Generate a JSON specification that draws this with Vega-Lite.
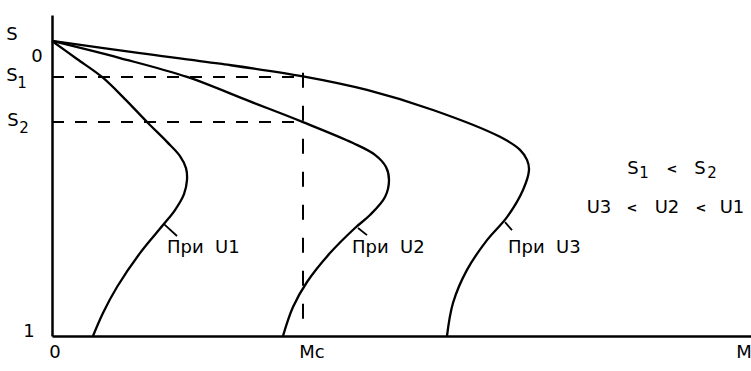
{
  "$schema": "https://vega.github.io/schema/vega-lite/v6.json",
  "autosize": {"type": "none"},
  "width": 699,
  "height": 321,
  "padding": {"left": 52, "top": 15, "right": 0, "bottom": 35},
  "background": "white",
  "config": {
    "view": {"stroke": null},
    "text": {"font": "DejaVu Sans", "color": "black"}
  },
  "datasets": {
    "curves": [
      {"curve": "U1", "i": 0, "M": 0, "S": 0},
      {"curve": "U1", "i": 1, "M": 25, "S": 0.061},
      {"curve": "U1", "i": 2, "M": 50, "S": 0.122},
      {"curve": "U1", "i": 3, "M": 73, "S": 0.197},
      {"curve": "U1", "i": 4, "M": 96, "S": 0.278},
      {"curve": "U1", "i": 5, "M": 115, "S": 0.342},
      {"curve": "U1", "i": 6, "M": 128, "S": 0.39},
      {"curve": "U1", "i": 7, "M": 134, "S": 0.431},
      {"curve": "U1", "i": 8, "M": 135, "S": 0.471},
      {"curve": "U1", "i": 9, "M": 132, "S": 0.519},
      {"curve": "U1", "i": 10, "M": 123, "S": 0.573},
      {"curve": "U1", "i": 11, "M": 111, "S": 0.624},
      {"curve": "U1", "i": 12, "M": 88, "S": 0.719},
      {"curve": "U1", "i": 13, "M": 65, "S": 0.834},
      {"curve": "U1", "i": 14, "M": 51, "S": 0.922},
      {"curve": "U1", "i": 15, "M": 41, "S": 1.0},
      {"curve": "U2", "i": 0, "M": 0, "S": 0},
      {"curve": "U2", "i": 1, "M": 68, "S": 0.058},
      {"curve": "U2", "i": 2, "M": 135, "S": 0.122},
      {"curve": "U2", "i": 3, "M": 198, "S": 0.205},
      {"curve": "U2", "i": 4, "M": 251, "S": 0.275},
      {"curve": "U2", "i": 5, "M": 301, "S": 0.346},
      {"curve": "U2", "i": 6, "M": 323, "S": 0.386},
      {"curve": "U2", "i": 7, "M": 334, "S": 0.427},
      {"curve": "U2", "i": 8, "M": 337, "S": 0.471},
      {"curve": "U2", "i": 9, "M": 333, "S": 0.529},
      {"curve": "U2", "i": 10, "M": 318, "S": 0.59},
      {"curve": "U2", "i": 11, "M": 303, "S": 0.634},
      {"curve": "U2", "i": 12, "M": 278, "S": 0.719},
      {"curve": "U2", "i": 13, "M": 255, "S": 0.817},
      {"curve": "U2", "i": 14, "M": 241, "S": 0.902},
      {"curve": "U2", "i": 15, "M": 231, "S": 1.0},
      {"curve": "U3", "i": 0, "M": 0, "S": 0},
      {"curve": "U3", "i": 1, "M": 88, "S": 0.041},
      {"curve": "U3", "i": 2, "M": 168, "S": 0.077},
      {"curve": "U3", "i": 3, "M": 251, "S": 0.12},
      {"curve": "U3", "i": 4, "M": 315, "S": 0.166},
      {"curve": "U3", "i": 5, "M": 381, "S": 0.234},
      {"curve": "U3", "i": 6, "M": 448, "S": 0.325},
      {"curve": "U3", "i": 7, "M": 468, "S": 0.369},
      {"curve": "U3", "i": 8, "M": 475, "S": 0.403},
      {"curve": "U3", "i": 9, "M": 477, "S": 0.437},
      {"curve": "U3", "i": 10, "M": 471, "S": 0.505},
      {"curve": "U3", "i": 11, "M": 455, "S": 0.597},
      {"curve": "U3", "i": 12, "M": 435, "S": 0.675},
      {"curve": "U3", "i": 13, "M": 415, "S": 0.776},
      {"curve": "U3", "i": 14, "M": 401, "S": 0.888},
      {"curve": "U3", "i": 15, "M": 395, "S": 1.0}
    ],
    "slipLevels": [
      {"name": "S1", "M": 0, "M2": 251, "S": 0.122},
      {"name": "S2", "M": 0, "M2": 251, "S": 0.275}
    ],
    "loadTorque": [
      {"name": "Mc", "M": 251, "S": 0.108, "S2": 1.0}
    ],
    "leaders": [
      {"curve": "U1", "M": 112, "M2": 125, "S": 0.621, "S2": 0.661},
      {"curve": "U2", "M": 306, "M2": 315, "S": 0.634, "S2": 0.658},
      {"curve": "U3", "M": 453, "M2": 460, "S": 0.614, "S2": 0.641}
    ],
    "curveLabels": [
      {"text": "При\u00a0\u00a0U1", "M": 115, "S": 0.702},
      {"text": "При\u00a0\u00a0U2", "M": 300, "S": 0.702},
      {"text": "При\u00a0\u00a0U3", "M": 456, "S": 0.702}
    ],
    "axisText": [
      {"text": "S", "M": -40, "S": -0.02},
      {"text": "0", "M": -15, "S": 0.054},
      {"text": "S", "M": -40, "S": 0.119},
      {"text": "S", "M": -39, "S": 0.271},
      {"text": "1", "M": -23, "S": 0.986},
      {"text": "0", "M": 3, "S": 1.058},
      {"text": "Mc", "M": 260, "S": 1.058},
      {"text": "M", "M": 692, "S": 1.058},
      {"text": "S", "M": 581, "S": 0.434},
      {"text": "S", "M": 648, "S": 0.434},
      {"text": "U3", "M": 547, "S": 0.566},
      {"text": "U2", "M": 615, "S": 0.566},
      {"text": "U1", "M": 680, "S": 0.566}
    ],
    "subscripts": [
      {"text": "1", "M": -30, "S": 0.142},
      {"text": "2", "M": -28, "S": 0.295},
      {"text": "1", "M": 592, "S": 0.447},
      {"text": "2", "M": 660, "S": 0.447}
    ],
    "relations": [
      {"text": "<", "M": 620, "S": 0.434},
      {"text": "<", "M": 580, "S": 0.566},
      {"text": "<", "M": 649, "S": 0.566}
    ]
  },
  "layer": [
    {
      "data": {"name": "curves"},
      "mark": {"type": "line", "interpolate": "catmull-rom", "color": "black", "strokeWidth": 2.3},
      "encoding": {
        "x": {
          "field": "M", "type": "quantitative",
          "scale": {"domain": [0, 699], "nice": false, "zero": false},
          "axis": {"title": null, "labels": false, "ticks": false, "grid": false, "domainColor": "black", "domainWidth": 2.5}
        },
        "y": {
          "field": "S", "type": "quantitative",
          "scale": {"domain": [-0.088, 1], "reverse": true, "nice": false, "zero": false},
          "axis": {"title": null, "labels": false, "ticks": false, "grid": false, "domainColor": "black", "domainWidth": 2.5}
        },
        "detail": {"field": "curve"},
        "order": {"field": "i", "type": "quantitative"}
      }
    },
    {
      "data": {"name": "slipLevels"},
      "mark": {"type": "rule", "color": "black", "strokeWidth": 2, "strokeDash": [12, 11]},
      "encoding": {
        "x": {"field": "M", "type": "quantitative"},
        "x2": {"field": "M2"},
        "y": {"field": "S", "type": "quantitative"}
      }
    },
    {
      "data": {"name": "loadTorque"},
      "mark": {"type": "rule", "color": "black", "strokeWidth": 2, "strokeDash": [15, 18]},
      "encoding": {
        "x": {"field": "M", "type": "quantitative"},
        "y": {"field": "S", "type": "quantitative"},
        "y2": {"field": "S2"}
      }
    },
    {
      "data": {"name": "leaders"},
      "mark": {"type": "rule", "color": "black", "strokeWidth": 1.8},
      "encoding": {
        "x": {"field": "M", "type": "quantitative"},
        "x2": {"field": "M2"},
        "y": {"field": "S", "type": "quantitative"},
        "y2": {"field": "S2"}
      }
    },
    {
      "data": {"name": "curveLabels"},
      "mark": {"type": "text", "align": "left", "baseline": "middle", "fontSize": 18},
      "encoding": {
        "x": {"field": "M", "type": "quantitative"},
        "y": {"field": "S", "type": "quantitative"},
        "text": {"field": "text"}
      }
    },
    {
      "data": {"name": "axisText"},
      "mark": {"type": "text", "align": "center", "baseline": "middle", "fontSize": 18},
      "encoding": {
        "x": {"field": "M", "type": "quantitative"},
        "y": {"field": "S", "type": "quantitative"},
        "text": {"field": "text"}
      }
    },
    {
      "data": {"name": "subscripts"},
      "mark": {"type": "text", "align": "center", "baseline": "middle", "fontSize": 15},
      "encoding": {
        "x": {"field": "M", "type": "quantitative"},
        "y": {"field": "S", "type": "quantitative"},
        "text": {"field": "text"}
      }
    },
    {
      "data": {"name": "relations"},
      "mark": {"type": "text", "align": "center", "baseline": "middle", "fontSize": 13, "fontWeight": "bold"},
      "encoding": {
        "x": {"field": "M", "type": "quantitative"},
        "y": {"field": "S", "type": "quantitative"},
        "text": {"field": "text"}
      }
    }
  ]
}
